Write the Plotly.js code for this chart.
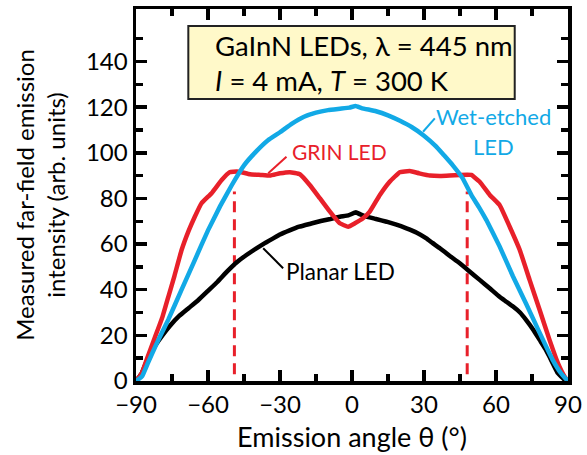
<!DOCTYPE html>
<html>
<head>
<meta charset="utf-8">
<script src="https://cdn.plot.ly/plotly-3.0.1.min.js"></script>
<style>html,body{margin:0;padding:0;background:#fff;}#chart{width:587px;height:455px;}</style>
</head>
<body>
<div id="chart"></div>
<script>
// Wet-etched LED
const angleWet = [-90,-87.5,-85,-82,-80,-76.5,-71,-65.5,-60,-55,-50,-45,-40,-35,-30,-25,-20,-15,-10,-5,-1,1.5,4,10,15,20,25,30,35,38,42,46,50,53,56,61.5,67,72.5,78,83.5,87,88.6,90];
const wetEtched = [0,2,8,15,19.5,27,40,53,66,76.5,86,94.5,100.5,105.5,109,112.8,115.8,117.6,118.7,119.3,119.8,120.5,119.6,118.2,116.4,114,111.2,107.5,102.8,99.3,94.5,89,81,76,70.5,59,46,34,21.5,9.5,3.5,1.5,0];

// GRIN LED
const angleGrin = [-90,-87.6,-85,-82,-79,-76.5,-74,-71,-68,-65.5,-62.7,-58.5,-54.3,-51,-48,-46,-42.5,-38,-34.2,-30,-25.9,-21.7,-17.6,-13.4,-9.2,-5.1,-1.6,1.2,4.6,7.4,11.6,15.7,19.9,24.1,28,32.4,36.6,40.7,44.9,49.7,53.2,57.4,61.5,65.7,69.9,74,78.2,82.3,85.8,88.6,90];
const grin = [0,3.4,11,19.5,28,37,46,57.4,66,72,77.9,82.3,88.1,91.5,91.8,91.5,90.6,90.3,90,91,91.5,90.6,85.9,80.1,74.2,69.1,67.6,69.1,71.3,74.2,81.5,87.3,91.5,92,91,90,89.8,90,90.3,90.3,87.3,81.5,77.1,67.6,57.4,44.3,31.1,18,7.8,1.9,0];

// Planar LED
const anglePlanar = [-90,-87.6,-85,-82,-79,-76,-72,-68,-64,-60,-56,-52,-48,-44,-40,-36,-33,-30,-26,-22,-17,-13,-9,-5,-1.5,1.6,3.5,6,10,14.4,18.5,22.7,27,31,33.5,36.6,40.5,44.9,49,53.2,57.5,61.5,64.5,67.1,70,72.6,75.5,78.2,80.5,82.3,84,85.8,88.6,90];
const planar = [0,3.4,10,15.5,20,24,28.5,32,35.5,39.5,43.5,48,52,55.2,58,60.6,62.4,64.2,66,67.6,69,70.1,71,72,72.6,73.9,73,72,71,69.8,68.5,66.9,65,62.5,60.5,58.2,55,51.6,48,44.3,40.5,36.9,34.6,32.6,30,26.7,22.5,18,14.2,10.6,7,3.4,0.5,0];

// dashed marker lines (GRIN plateau edges)
const dashAngles = [-49, 48];
const dashBottom = 3;
const dashTop = 83;

// tick values
const xMajor = [-90,-60,-30,0,30,60,90];
const xMinor = [-75,-45,-15,15,45,75];
const yMajor = [0,20,40,60,80,100,120,140];
const yMinor = [10,30,50,70,90,110,130,150];

const RED = '#E8202A';
const BLUE = '#12A9E6';
const FONT = 'Lato, "Open Sans", sans-serif';

const traces = [];
dashAngles.forEach(a => {
  traces.push({x:[a,a], y:[dashBottom,dashTop], mode:'lines', line:{color:RED, width:3, dash:'11px,7px'}, hoverinfo:'skip', showlegend:false});
});
traces.push({x:anglePlanar, y:planar, mode:'lines', line:{color:'#000', width:4.5, shape:'spline', smoothing:0.3}, showlegend:false});
traces.push({x:angleGrin, y:grin, mode:'lines', line:{color:RED, width:4.5, shape:'spline', smoothing:0.3}, showlegend:false});
traces.push({x:angleWet, y:wetEtched, mode:'lines', line:{color:BLUE, width:4.5, shape:'spline', smoothing:0.3}, showlegend:false});

const axisCommon = {
  showline:true, linecolor:'#000', linewidth:3.5, mirror:'ticks',
  ticks:'inside', ticklen:11, tickwidth:3.5, tickcolor:'#000',
  showgrid:false, zeroline:false,
  tickfont:{family:FONT, size:24, color:'#000'}
};

const layout = {
  width:587, height:455,
  margin:{l:136, r:19, t:9, b:74},
  paper_bgcolor:'#fff', plot_bgcolor:'#fff',
  font:{family:FONT, size:22, color:'#000'},
  xaxis: Object.assign({}, axisCommon, {
    range:[-90,90], tickmode:'array', tickvals:xMajor,
    minor:{tickmode:'array', tickvals:xMinor, ticks:'inside', ticklen:7, tickwidth:3.5, tickcolor:'#000'},
    title:{text:'Emission angle \u03b8 (\u00b0)', font:{family:FONT, size:27, color:'#000'}, standoff:12}
  }),
  yaxis: Object.assign({}, axisCommon, {
    range:[0,163], tickmode:'array', tickvals:yMajor,
    minor:{tickmode:'array', tickvals:yMinor, ticks:'inside', ticklen:7, tickwidth:3.5, tickcolor:'#000'},
    title:{text:'Measured far-field emission<br>intensity (arb. units)', font:{family:FONT, size:24, color:'#000'}, standoff:14}
  }),
  shapes:[
    {type:'rect', xref:'x', yref:'y', x0:-68.2, x1:67.8, y0:123.6, y1:155.6, fillcolor:'#FFF9C9', line:{color:'#222', width:2}, layer:'above'},
    {type:'line', xref:'x', yref:'y', x0:-27.3, y0:98.3, x1:-34.9, y1:91, line:{color:RED, width:2}},
    {type:'line', xref:'x', yref:'y', x0:-28.7, y0:49.4, x1:-37, y1:58.2, line:{color:'#000', width:2}},
    {type:'line', xref:'x', yref:'y', x0:34.5, y0:115.1, x1:29.6, y1:109.2, line:{color:BLUE, width:2}}
  ],
  annotations:[
    {xref:'x', yref:'y', x:-57.8, y:147.2, xanchor:'left', yanchor:'middle', showarrow:false, text:'GaInN LEDs, \u03bb = 445 nm', font:{family:FONT, size:27.5, color:'#000'}},
    {xref:'x', yref:'y', x:-57.8, y:131.8, xanchor:'left', yanchor:'middle', showarrow:false, text:'<i>I</i> = 4 mA, <i>T</i> = 300 K', font:{family:FONT, size:27.5, color:'#000'}},
    {xref:'x', yref:'y', x:-5.1, y:100.4, showarrow:false, text:'GRIN LED', font:{family:FONT, size:21, color:RED}},
    {xref:'x', yref:'y', x:-5, y:48.2, showarrow:false, text:'Planar LED', font:{family:FONT, size:22.5, color:'#000'}},
    {xref:'x', yref:'y', x:59.1, y:116.1, showarrow:false, text:'Wet-etched', font:{family:FONT, size:22, color:BLUE}},
    {xref:'x', yref:'y', x:59.1, y:102.7, showarrow:false, text:'LED', font:{family:FONT, size:22, color:BLUE}}
  ]
};

Plotly.newPlot('chart', traces, layout, {staticPlot:true, displayModeBar:false});
</script>
</body>
</html>
